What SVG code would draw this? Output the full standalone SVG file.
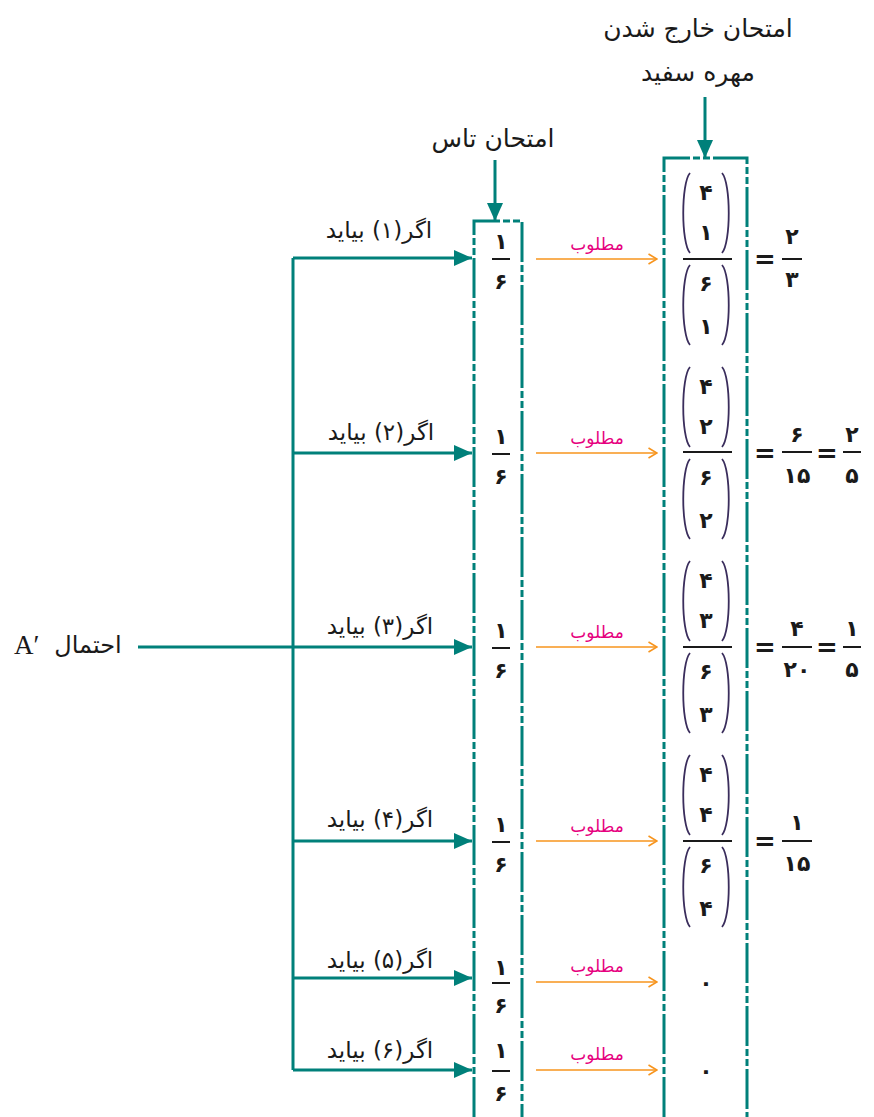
<svg xmlns="http://www.w3.org/2000/svg" xmlns:xlink="http://www.w3.org/1999/xlink" width="874" height="1117" viewBox="0 0 874 1117">
<style>
.t{font-family:"DejaVu Sans",sans-serif;fill:#1a1a1a}
.lbl{font-size:23px;text-anchor:middle;dominant-baseline:central}
.top{font-size:25px;text-anchor:middle;dominant-baseline:central}
.num{font-size:22px;font-weight:bold;text-anchor:middle;dominant-baseline:central}
.eq{font-size:26px;font-weight:bold;text-anchor:middle;dominant-baseline:central}
.mat{font-family:"DejaVu Sans",sans-serif;font-size:17px;fill:#e6007e;text-anchor:middle;dominant-baseline:central}
.teal{stroke:#00807a;stroke-width:3;fill:none}
.dash{stroke:#00807a;stroke-width:3;fill:none;stroke-dasharray:40 3 7 3 7 3}
.or{stroke:#f7941d;stroke-width:1.6;fill:none}
.bar{stroke:#1a1a1a;stroke-width:2}
.paren{stroke:#3a2d5c;stroke-width:1.8;fill:none}
</style>
<defs>
<marker id="ah" viewBox="0 0 10 10" refX="10" refY="5" markerUnits="userSpaceOnUse" markerWidth="18" markerHeight="16" orient="auto" preserveAspectRatio="none">
<path d="M0,0 L10,5 L0,10 z" fill="#00807a"/>
</marker>
<marker id="oh" viewBox="0 0 10 12" refX="9.5" refY="6" markerUnits="userSpaceOnUse" markerWidth="10" markerHeight="12" orient="auto">
<path d="M1,1 L9.5,6 L1,11" fill="none" stroke="#f7941d" stroke-width="1.6"/>
</marker>
<g id="pp">
<path class="paren" d="M-16,0 C-25,10 -25,70 -16,80"/>
<path class="paren" d="M16,0 C25,10 25,70 16,80"/>
</g>
</defs>

<g id="boxes">
<path class="dash" d="M474,1117 V221 H522 V1117"/>
<path class="dash" d="M664,1117 V158 H747 V1117"/>
</g>

<g id="connectors">
<line class="teal" x1="138" y1="647" x2="293" y2="647"/>
<line class="teal" x1="293" y1="258" x2="293" y2="1070"/>
<line class="teal" x1="293" y1="258" x2="472" y2="258" marker-end="url(#ah)"/>
<line class="teal" x1="293" y1="453" x2="472" y2="453" marker-end="url(#ah)"/>
<line class="teal" x1="293" y1="647" x2="472" y2="647" marker-end="url(#ah)"/>
<line class="teal" x1="293" y1="841" x2="472" y2="841" marker-end="url(#ah)"/>
<line class="teal" x1="293" y1="978" x2="472" y2="978" marker-end="url(#ah)"/>
<line class="teal" x1="293" y1="1070" x2="472" y2="1070" marker-end="url(#ah)"/>
<line class="teal" x1="495" y1="160" x2="495" y2="221" marker-end="url(#ah)"/>
<line class="teal" x1="705" y1="97" x2="705" y2="158" marker-end="url(#ah)"/>
<line class="or" x1="536" y1="259" x2="657" y2="259" marker-end="url(#oh)"/>
<line class="or" x1="536" y1="453" x2="657" y2="453" marker-end="url(#oh)"/>
<line class="or" x1="536" y1="647" x2="657" y2="647" marker-end="url(#oh)"/>
<line class="or" x1="536" y1="841" x2="657" y2="841" marker-end="url(#oh)"/>
<line class="or" x1="536" y1="982" x2="657" y2="982" marker-end="url(#oh)"/>
<line class="or" x1="536" y1="1070" x2="657" y2="1070" marker-end="url(#oh)"/>
</g>

<g id="titles">
<text class="t top" x="698" y="28" direction="rtl">امتحان خارج شدن</text>
<text class="t top" x="698" y="72" direction="rtl">مهره سفید</text>
<text class="t top" x="493" y="138" direction="rtl">امتحان تاس</text>
</g>

<g id="start">
<text class="t" x="88" y="645" font-size="24" text-anchor="middle" dominant-baseline="central" direction="rtl">احتمال</text>
<text x="14" y="645" font-family="Liberation Serif, serif" font-size="27" fill="#1a1a1a" dominant-baseline="central">A′</text>
</g>

<g id="row1">
<text class="t lbl" x="379" y="230" direction="rtl">اگر(۱) بیاید</text>
<text class="t num" x="501" y="241">۱</text>
<line class="bar" x1="492" y1="259" x2="510" y2="259"/>
<text class="t num" x="501" y="281">۶</text>
<text class="mat" x="597" y="244">مطلوب</text>
<use xlink:href="#pp" x="706" y="173"/>
<text class="t num" x="706" y="192">۴</text>
<text class="t num" x="706" y="232">۱</text>
<line class="bar" x1="683" y1="259" x2="732" y2="259"/>
<use xlink:href="#pp" x="706" y="265"/>
<text class="t num" x="706" y="283">۶</text>
<text class="t num" x="706" y="326">۱</text>
<text class="t eq" x="765" y="259">=</text>
<text class="t num" x="792" y="236">۲</text>
<line class="bar" x1="782" y1="259" x2="802" y2="259"/>
<text class="t num" x="792" y="279">۳</text>
</g>

<g id="row2">
<text class="t lbl" x="381" y="432" direction="rtl">اگر(۲) بیاید</text>
<text class="t num" x="501" y="436">۱</text>
<line class="bar" x1="492" y1="454" x2="510" y2="454"/>
<text class="t num" x="501" y="476">۶</text>
<text class="mat" x="597" y="438">مطلوب</text>
<use xlink:href="#pp" x="706" y="367"/>
<text class="t num" x="706" y="386">۴</text>
<text class="t num" x="706" y="426">۲</text>
<line class="bar" x1="683" y1="452" x2="732" y2="452"/>
<use xlink:href="#pp" x="706" y="459"/>
<text class="t num" x="706" y="477">۶</text>
<text class="t num" x="706" y="520">۲</text>
<text class="t eq" x="765" y="453">=</text>
<text class="t num" x="797" y="434">۶</text>
<line class="bar" x1="782" y1="452" x2="812" y2="452"/>
<text class="t num" x="797" y="475">۱۵</text>
<text class="t eq" x="827" y="453">=</text>
<text class="t num" x="852" y="434">۲</text>
<line class="bar" x1="843" y1="452" x2="861" y2="452"/>
<text class="t num" x="852" y="475">۵</text>
</g>

<g id="row3">
<text class="t lbl" x="380" y="626" direction="rtl">اگر(۳) بیاید</text>
<text class="t num" x="501" y="630">۱</text>
<line class="bar" x1="492" y1="648" x2="510" y2="648"/>
<text class="t num" x="501" y="670">۶</text>
<text class="mat" x="597" y="632">مطلوب</text>
<use xlink:href="#pp" x="706" y="561"/>
<text class="t num" x="706" y="580">۴</text>
<text class="t num" x="706" y="620">۳</text>
<line class="bar" x1="683" y1="647" x2="732" y2="647"/>
<use xlink:href="#pp" x="706" y="653"/>
<text class="t num" x="706" y="671">۶</text>
<text class="t num" x="706" y="714">۳</text>
<text class="t eq" x="765" y="647">=</text>
<text class="t num" x="797" y="628">۴</text>
<line class="bar" x1="782" y1="647" x2="812" y2="647"/>
<text class="t num" x="797" y="669">۲۰</text>
<text class="t eq" x="827" y="647">=</text>
<text class="t num" x="852" y="628">۱</text>
<line class="bar" x1="843" y1="647" x2="861" y2="647"/>
<text class="t num" x="852" y="669">۵</text>
</g>

<g id="row4">
<text class="t lbl" x="380" y="819" direction="rtl">اگر(۴) بیاید</text>
<text class="t num" x="501" y="824">۱</text>
<line class="bar" x1="492" y1="842" x2="510" y2="842"/>
<text class="t num" x="501" y="864">۶</text>
<text class="mat" x="597" y="826">مطلوب</text>
<use xlink:href="#pp" x="706" y="755"/>
<text class="t num" x="706" y="774">۴</text>
<text class="t num" x="706" y="814">۴</text>
<line class="bar" x1="683" y1="841" x2="732" y2="841"/>
<use xlink:href="#pp" x="706" y="847"/>
<text class="t num" x="706" y="865">۶</text>
<text class="t num" x="706" y="908">۴</text>
<text class="t eq" x="765" y="841">=</text>
<text class="t num" x="797" y="822">۱</text>
<line class="bar" x1="782" y1="841" x2="812" y2="841"/>
<text class="t num" x="797" y="863">۱۵</text>
</g>

<g id="row5">
<text class="t lbl" x="380" y="960" direction="rtl">اگر(۵) بیاید</text>
<text class="t num" x="501" y="967">۱</text>
<line class="bar" x1="492" y1="983" x2="510" y2="983"/>
<text class="t num" x="501" y="1005">۶</text>
<text class="mat" x="597" y="966">مطلوب</text>
<text class="t num" x="706" y="982">۰</text>
</g>

<g id="row6">
<text class="t lbl" x="380" y="1050" direction="rtl">اگر(۶) بیاید</text>
<text class="t num" x="501" y="1050">۱</text>
<line class="bar" x1="492" y1="1071" x2="510" y2="1071"/>
<text class="t num" x="501" y="1093">۶</text>
<text class="mat" x="597" y="1054">مطلوب</text>
<text class="t num" x="706" y="1070">۰</text>
</g>
</svg>
